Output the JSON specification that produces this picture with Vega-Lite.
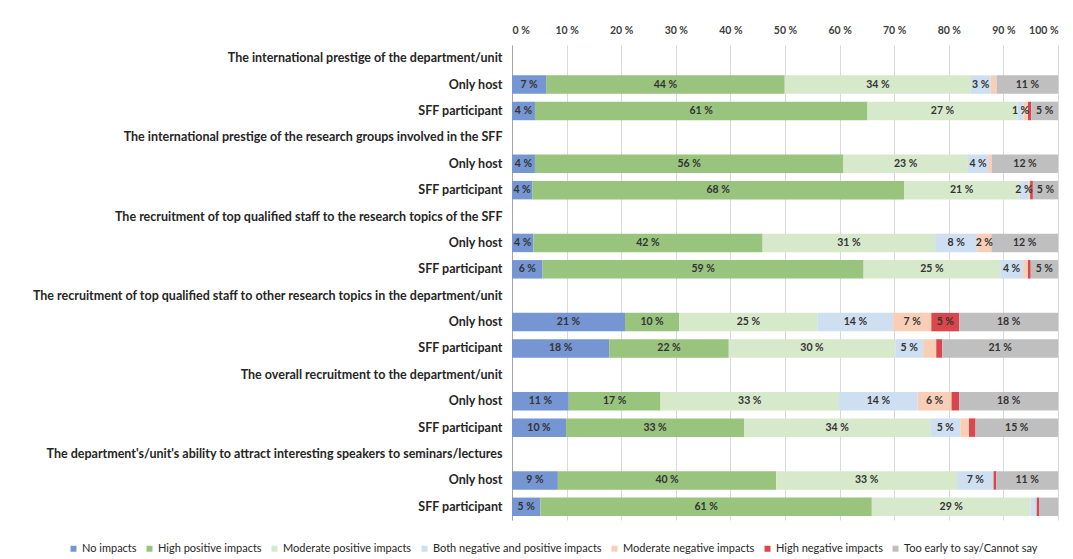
{
  "$schema": "https://vega.github.io/schema/vega-lite/v6.json",
  "width": 546,
  "height": 475,
  "autosize": {"type": "none"},
  "padding": {"left": 512, "top": 45, "right": 15, "bottom": 39},
  "background": "white",
  "config": {"view": {"stroke": null}, "font": "Lato"},
  "data": {"values": [
    {"row": "02|Only host", "cat": "No impacts", "value": 6.25, "label": "7 %"},
    {"row": "02|Only host", "cat": "High positive impacts", "value": 43.7, "label": "44 %"},
    {"row": "02|Only host", "cat": "Moderate positive impacts", "value": 34.1, "label": "34 %"},
    {"row": "02|Only host", "cat": "Both negative and positive impacts", "value": 3.6, "label": "3 %"},
    {"row": "02|Only host", "cat": "Moderate negative impacts", "value": 1.1, "label": ""},
    {"row": "02|Only host", "cat": "Too early to say/Cannot say", "value": 11.3, "label": "11 %"},
    {"row": "03|SFF participant", "cat": "No impacts", "value": 4.2, "label": "4 %"},
    {"row": "03|SFF participant", "cat": "High positive impacts", "value": 60.9, "label": "61 %"},
    {"row": "03|SFF participant", "cat": "Moderate positive impacts", "value": 27.5, "label": "27 %"},
    {"row": "03|SFF participant", "cat": "Both negative and positive impacts", "value": 1.1, "label": "1 %"},
    {"row": "03|SFF participant", "cat": "Moderate negative impacts", "value": 0.8, "label": ""},
    {"row": "03|SFF participant", "cat": "High negative impacts", "value": 0.6, "label": ""},
    {"row": "03|SFF participant", "cat": "Too early to say/Cannot say", "value": 4.9, "label": "5 %"},
    {"row": "05|Only host", "cat": "No impacts", "value": 4.2, "label": "4 %"},
    {"row": "05|Only host", "cat": "High positive impacts", "value": 56.5, "label": "56 %"},
    {"row": "05|Only host", "cat": "Moderate positive impacts", "value": 22.8, "label": "23 %"},
    {"row": "05|Only host", "cat": "Both negative and positive impacts", "value": 3.7, "label": "4 %"},
    {"row": "05|Only host", "cat": "Moderate negative impacts", "value": 0.7, "label": ""},
    {"row": "05|Only host", "cat": "Too early to say/Cannot say", "value": 12.1, "label": "12 %"},
    {"row": "06|SFF participant", "cat": "No impacts", "value": 3.7, "label": "4 %"},
    {"row": "06|SFF participant", "cat": "High positive impacts", "value": 68.1, "label": "68 %"},
    {"row": "06|SFF participant", "cat": "Moderate positive impacts", "value": 21.1, "label": "21 %"},
    {"row": "06|SFF participant", "cat": "Both negative and positive impacts", "value": 1.7, "label": "2 %"},
    {"row": "06|SFF participant", "cat": "Moderate negative impacts", "value": 0.3, "label": ""},
    {"row": "06|SFF participant", "cat": "High negative impacts", "value": 0.5, "label": ""},
    {"row": "06|SFF participant", "cat": "Too early to say/Cannot say", "value": 4.6, "label": "5 %"},
    {"row": "08|Only host", "cat": "No impacts", "value": 3.9, "label": "4 %"},
    {"row": "08|Only host", "cat": "High positive impacts", "value": 42.0, "label": "42 %"},
    {"row": "08|Only host", "cat": "Moderate positive impacts", "value": 31.6, "label": "31 %"},
    {"row": "08|Only host", "cat": "Both negative and positive impacts", "value": 7.7, "label": "8 %"},
    {"row": "08|Only host", "cat": "Moderate negative impacts", "value": 2.6, "label": "2 %"},
    {"row": "08|Only host", "cat": "Too early to say/Cannot say", "value": 12.2, "label": "12 %"},
    {"row": "09|SFF participant", "cat": "No impacts", "value": 5.6, "label": "6 %"},
    {"row": "09|SFF participant", "cat": "High positive impacts", "value": 58.8, "label": "59 %"},
    {"row": "09|SFF participant", "cat": "Moderate positive impacts", "value": 25.0, "label": "25 %"},
    {"row": "09|SFF participant", "cat": "Both negative and positive impacts", "value": 4.2, "label": "4 %"},
    {"row": "09|SFF participant", "cat": "Moderate negative impacts", "value": 0.9, "label": ""},
    {"row": "09|SFF participant", "cat": "High negative impacts", "value": 0.5, "label": ""},
    {"row": "09|SFF participant", "cat": "Too early to say/Cannot say", "value": 5.0, "label": "5 %"},
    {"row": "11|Only host", "cat": "No impacts", "value": 20.7, "label": "21 %"},
    {"row": "11|Only host", "cat": "High positive impacts", "value": 9.9, "label": "10 %"},
    {"row": "11|Only host", "cat": "Moderate positive impacts", "value": 25.4, "label": "25 %"},
    {"row": "11|Only host", "cat": "Both negative and positive impacts", "value": 13.8, "label": "14 %"},
    {"row": "11|Only host", "cat": "Moderate negative impacts", "value": 7.0, "label": "7 %"},
    {"row": "11|Only host", "cat": "High negative impacts", "value": 5.1, "label": "5 %"},
    {"row": "11|Only host", "cat": "Too early to say/Cannot say", "value": 18.1, "label": "18 %"},
    {"row": "12|SFF participant", "cat": "No impacts", "value": 17.8, "label": "18 %"},
    {"row": "12|SFF participant", "cat": "High positive impacts", "value": 21.9, "label": "22 %"},
    {"row": "12|SFF participant", "cat": "Moderate positive impacts", "value": 30.5, "label": "30 %"},
    {"row": "12|SFF participant", "cat": "Both negative and positive impacts", "value": 5.1, "label": "5 %"},
    {"row": "12|SFF participant", "cat": "Moderate negative impacts", "value": 2.4, "label": ""},
    {"row": "12|SFF participant", "cat": "High negative impacts", "value": 1.1, "label": ""},
    {"row": "12|SFF participant", "cat": "Too early to say/Cannot say", "value": 21.2, "label": "21 %"},
    {"row": "14|Only host", "cat": "No impacts", "value": 10.4, "label": "11 %"},
    {"row": "14|Only host", "cat": "High positive impacts", "value": 16.8, "label": "17 %"},
    {"row": "14|Only host", "cat": "Moderate positive impacts", "value": 32.7, "label": "33 %"},
    {"row": "14|Only host", "cat": "Both negative and positive impacts", "value": 14.4, "label": "14 %"},
    {"row": "14|Only host", "cat": "Moderate negative impacts", "value": 6.2, "label": "6 %"},
    {"row": "14|Only host", "cat": "High negative impacts", "value": 1.4, "label": ""},
    {"row": "14|Only host", "cat": "Too early to say/Cannot say", "value": 18.1, "label": "18 %"},
    {"row": "15|SFF participant", "cat": "No impacts", "value": 9.9, "label": "10 %"},
    {"row": "15|SFF participant", "cat": "High positive impacts", "value": 32.6, "label": "33 %"},
    {"row": "15|SFF participant", "cat": "Moderate positive impacts", "value": 34.1, "label": "34 %"},
    {"row": "15|SFF participant", "cat": "Both negative and positive impacts", "value": 5.5, "label": "5 %"},
    {"row": "15|SFF participant", "cat": "Moderate negative impacts", "value": 1.6, "label": ""},
    {"row": "15|SFF participant", "cat": "High negative impacts", "value": 1.2, "label": ""},
    {"row": "15|SFF participant", "cat": "Too early to say/Cannot say", "value": 15.1, "label": "15 %"},
    {"row": "17|Only host", "cat": "No impacts", "value": 8.4, "label": "9 %"},
    {"row": "17|Only host", "cat": "High positive impacts", "value": 40.0, "label": "40 %"},
    {"row": "17|Only host", "cat": "Moderate positive impacts", "value": 33.1, "label": "33 %"},
    {"row": "17|Only host", "cat": "Both negative and positive impacts", "value": 6.7, "label": "7 %"},
    {"row": "17|Only host", "cat": "High negative impacts", "value": 0.5, "label": ""},
    {"row": "17|Only host", "cat": "Too early to say/Cannot say", "value": 11.3, "label": "11 %"},
    {"row": "18|SFF participant", "cat": "No impacts", "value": 5.2, "label": "5 %"},
    {"row": "18|SFF participant", "cat": "High positive impacts", "value": 60.7, "label": "61 %"},
    {"row": "18|SFF participant", "cat": "Moderate positive impacts", "value": 29.1, "label": "29 %"},
    {"row": "18|SFF participant", "cat": "Both negative and positive impacts", "value": 1.1, "label": ""},
    {"row": "18|SFF participant", "cat": "High negative impacts", "value": 0.5, "label": ""},
    {"row": "18|SFF participant", "cat": "Too early to say/Cannot say", "value": 3.4, "label": ""}
  ]},
  "transform": [
    {"calculate": "indexof(['No impacts','High positive impacts','Moderate positive impacts','Both negative and positive impacts','Moderate negative impacts','High negative impacts','Too early to say/Cannot say'], datum.cat)", "as": "ord"},
    {"stack": "value", "groupby": ["row"], "sort": [{"field": "ord", "order": "ascending"}], "as": ["v0", "v1"]},
    {"calculate": "(datum.v0 + datum.v1) / 2", "as": "mid"}
  ],
  "encoding": {
    "y": {
      "field": "row",
      "type": "nominal",
      "title": null,
      "scale": {
        "domain": [
          "01|The international prestige of the department/unit",
          "02|Only host",
          "03|SFF participant",
          "04|The international prestige of the research groups involved in the SFF",
          "05|Only host",
          "06|SFF participant",
          "07|The recruitment of top qualified staff to the research topics of the SFF",
          "08|Only host",
          "09|SFF participant",
          "10|The recruitment of top qualified staff to other research topics in the department/unit",
          "11|Only host",
          "12|SFF participant",
          "13|The overall recruitment to the department/unit",
          "14|Only host",
          "15|SFF participant",
          "16|The department's/unit's ability to attract interesting speakers to seminars/lectures",
          "17|Only host",
          "18|SFF participant"
        ],
        "paddingInner": 0.3,
        "paddingOuter": 0.15
      },
      "axis": {
        "labelExpr": "split(datum.label, '|')[1]",
        "labelFont": "Lato",
        "labelFontWeight": "bold",
        "labelFontSize": 12.5,
        "labelColor": "#262626",
        "labelLimit": 0,
        "labelPadding": 10,
        "ticks": false,
        "domainColor": "#a6a6a6",
        "domainWidth": 1
      }
    }
  },
  "layer": [
    {
      "mark": {"type": "bar"},
      "encoding": {
        "x": {
          "field": "v0",
          "type": "quantitative",
          "title": null,
          "scale": {"domain": [0, 100], "nice": false},
          "axis": {
            "orient": "top",
            "values": [0, 10, 20, 30, 40, 50, 60, 70, 80, 90, 100],
            "labelExpr": "datum.value + ' %'",
            "labelFont": "Lato",
            "labelFontWeight": "bold",
            "labelFontSize": 10.5,
            "labelColor": "#404040",
            "labelPadding": 10,
            "ticks": false,
            "domain": false,
            "grid": true,
            "gridColor": "#d9d9d9",
            "gridWidth": 1
          }
        },
        "x2": {"field": "v1"},
        "color": {
          "field": "cat",
          "type": "nominal",
          "scale": {
            "domain": ["No impacts", "High positive impacts", "Moderate positive impacts", "Both negative and positive impacts", "Moderate negative impacts", "High negative impacts", "Too early to say/Cannot say"],
            "range": ["#7596d2", "#99c47d", "#d7e9cb", "#cddff1", "#f8cfb6", "#d9464b", "#bfbfbf"]
          },
          "legend": {
            "title": null,
            "orient": "none",
            "direction": "horizontal",
            "legendX": -444,
            "legendY": 498,
            "symbolType": "square",
            "symbolSize": 36,
            "symbolStrokeWidth": 0,
            "labelFont": "Lato",
            "labelFontSize": 11,
            "labelColor": "#262626",
            "labelLimit": 0,
            "labelOffset": 3,
            "columnPadding": 7
          }
        }
      }
    },
    {
      "mark": {"type": "text", "font": "Lato", "fontWeight": "bold", "fontSize": 10.5, "color": "#333333"},
      "encoding": {
        "x": {"field": "mid", "type": "quantitative"},
        "text": {"field": "label"}
      }
    }
  ]
}
